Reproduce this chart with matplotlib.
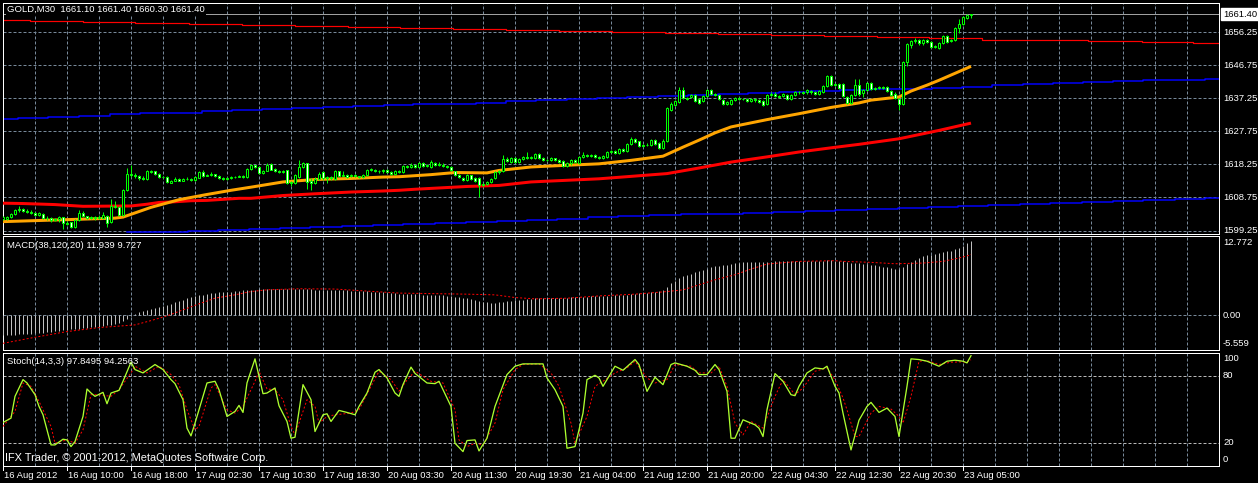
import numpy as np
import matplotlib
matplotlib.use("Agg")
import matplotlib.pyplot as plt
from matplotlib.transforms import blended_transform_factory, offset_copy

# ---------------- data ----------------
opens = [1602.6,1602.5,1603.0,1604.0,1605.0,1605.3,1604.8,1604.6,1604.2,1603.7,
 1604.1,1602.8,1602.9,1602.4,1602.6,1603.0,1601.4,1601.6,1600.3,1602.2,
 1604.4,1603.3,1602.9,1603.0,1602.8,1602.8,1603.4,1601.7,1606.4,1606.0,
 1603.6,1610.8,1615.6,1615.1,1614.8,1614.2,1614.1,1616.2,1616.2,1615.6,
 1614.6,1614.6,1613.0,1613.6,1614.1,1613.6,1614.1,1614.0,1613.9,1614.4,
 1616.1,1614.9,1615.1,1615.4,1614.8,1614.4,1614.1,1614.3,1614.7,1614.6,
 1614.8,1614.6,1616.9,1618.0,1617.6,1615.9,1616.4,1618.3,1616.9,1616.2,
 1616.0,1616.5,1613.1,1612.9,1614.6,1617.5,1618.5,1613.4,1612.8,1614.1,
 1616.0,1614.4,1614.6,1614.1,1616.2,1615.0,1615.3,1614.8,1615.2,1614.8,
 1614.6,1615.1,1616.5,1616.7,1616.4,1616.2,1616.6,1616.1,1615.4,1616.2,
 1616.0,1617.7,1617.4,1618.0,1617.6,1618.5,1617.9,1617.5,1618.6,1618.1,
 1618.2,1617.9,1617.5,1616.2,1615.1,1614.4,1613.7,1615.1,1614.4,1614.4,
 1612.2,1612.6,1613.2,1614.4,1616.0,1616.3,1619.9,1619.0,1620.2,1619.0,
 1619.8,1620.4,1620.0,1620.2,1621.1,1620.2,1619.6,1619.5,1620.0,1619.5,
 1619.2,1617.7,1618.5,1619.4,1618.6,1620.3,1621.0,1620.6,1621.0,1620.4,
 1620.0,1620.3,1621.8,1622.0,1621.5,1622.7,1622.2,1624.2,1625.6,1624.9,
 1623.6,1623.8,1623.7,1625.2,1624.4,1623.0,1625.0,1633.8,1635.2,1636.2,
 1639.6,1637.2,1637.5,1638.1,1636.9,1636.5,1637.8,1639.6,1638.4,1638.1,
 1636.7,1635.7,1635.7,1636.8,1637.2,1636.9,1637.0,1636.4,1637.0,1636.6,
 1636.4,1635.7,1638.3,1638.6,1638.0,1637.8,1638.3,1636.9,1638.1,1638.9,
 1639.0,1638.9,1639.4,1638.9,1638.4,1639.0,1640.7,1643.6,1641.0,1641.2,
 1641.3,1637.6,1636.0,1638.3,1641.0,1638.8,1639.5,1641.5,1639.8,1640.3,
 1640.5,1640.5,1639.3,1638.6,1637.1,1635.7,1647.7,1652.5,1653.6,1654.0,
 1653.2,1653.9,1653.3,1652.0,1651.7,1653.0,1655.1,1653.6,1653.9,1657.3,
 1658.5,1660.2,1661.1]
closes = [1603.2,1603.0,1604.0,1605.0,1605.3,1604.8,1604.6,1604.2,1603.8,1604.3,
 1602.8,1602.9,1602.3,1602.6,1603.0,1601.4,1601.2,1600.2,1602.2,1604.3,
 1603.3,1602.9,1603.1,1602.7,1603.2,1603.6,1601.5,1606.4,1606.1,1603.6,
 1610.8,1615.6,1615.1,1614.8,1614.2,1614.1,1616.2,1616.0,1615.4,1614.6,
 1614.5,1613.2,1613.5,1614.1,1613.6,1614.1,1614.0,1613.9,1614.5,1616.1,
 1614.8,1615.1,1615.4,1614.8,1614.4,1614.1,1614.2,1614.7,1614.6,1614.9,
 1614.6,1616.9,1618.0,1617.4,1615.8,1616.3,1618.2,1616.7,1616.3,1616.0,
 1616.4,1612.9,1612.8,1615.1,1617.6,1618.6,1613.2,1612.8,1614.1,1615.6,
 1614.2,1614.6,1614.2,1616.3,1614.8,1615.3,1614.6,1615.2,1614.8,1614.6,
 1615.2,1616.5,1616.8,1616.4,1616.2,1616.6,1616.1,1615.4,1616.2,1616.0,
 1617.7,1617.4,1618.2,1617.6,1618.6,1617.9,1618.0,1618.9,1618.1,1618.4,
 1617.8,1617.5,1616.5,1615.1,1614.6,1613.7,1615.1,1614.1,1613.6,1612.2,
 1612.5,1613.2,1614.1,1616.0,1616.2,1619.9,1619.1,1620.2,1618.9,1619.8,
 1620.4,1620.0,1620.3,1621.1,1620.2,1619.6,1619.5,1620.0,1619.5,1618.9,
 1617.8,1618.5,1619.4,1618.8,1620.3,1621.0,1620.6,1621.0,1620.4,1620.0,
 1620.6,1621.8,1622.0,1621.6,1622.7,1622.2,1624.2,1625.6,1624.8,1623.4,
 1623.7,1623.9,1625.2,1624.2,1623.0,1625.1,1634.3,1635.7,1636.5,1639.6,
 1637.2,1636.9,1638.1,1636.5,1636.0,1637.8,1639.6,1638.4,1638.1,1636.9,
 1635.7,1636.2,1636.8,1637.2,1636.9,1637.1,1636.4,1637.1,1636.6,1636.3,
 1635.4,1638.3,1638.6,1638.0,1637.6,1638.4,1636.9,1638.1,1638.9,1639.1,
 1638.8,1639.5,1638.9,1638.4,1639.2,1640.7,1643.6,1641.0,1641.3,1640.1,
 1637.9,1636.0,1638.3,1641.0,1638.6,1639.5,1641.5,1639.8,1640.3,1640.5,
 1640.3,1639.3,1638.3,1637.3,1635.7,1647.7,1652.7,1653.6,1654.1,1653.2,
 1653.9,1653.5,1652.0,1652.3,1653.0,1655.1,1653.5,1653.9,1657.3,1658.5,
 1660.5,1661.1,1661.4]
highs = [1603.5,1603.3,1604.3,1605.3,1606.2,1605.6,1605.3,1605.0,1604.6,1604.6,
 1604.3,1603.3,1603.0,1602.9,1603.3,1603.1,1601.9,1601.8,1602.5,1605.1,
 1604.9,1603.5,1603.4,1603.4,1603.6,1604.6,1603.7,1608.2,1607.6,1606.4,
 1611.2,1617.2,1618.0,1615.9,1615.2,1614.8,1616.5,1616.6,1616.4,1615.8,
 1614.8,1614.8,1613.8,1614.5,1614.4,1614.4,1614.5,1614.2,1614.8,1616.4,
 1616.6,1615.4,1616.1,1615.6,1615.1,1614.6,1614.5,1615.0,1615.0,1615.2,
 1615.1,1617.2,1618.3,1618.2,1617.8,1616.6,1618.6,1618.6,1617.1,1616.5,
 1616.7,1616.7,1613.4,1615.4,1619.4,1618.9,1618.7,1614.2,1614.5,1616.0,
 1616.3,1615.0,1614.9,1616.6,1616.4,1616.2,1615.6,1615.5,1615.4,1615.0,
 1615.5,1617.0,1617.1,1617.0,1616.7,1616.9,1616.9,1616.3,1616.5,1616.5,
 1618.0,1618.0,1618.5,1618.3,1618.9,1618.8,1618.4,1619.5,1618.9,1618.9,
 1618.5,1618.2,1617.8,1616.4,1615.4,1614.7,1615.4,1615.3,1614.6,1614.7,
 1612.9,1613.6,1614.4,1616.3,1616.6,1620.8,1620.3,1620.5,1620.5,1620.1,
 1620.7,1621.8,1620.6,1621.4,1621.4,1620.5,1619.9,1620.3,1620.2,1619.8,
 1619.4,1618.8,1619.7,1619.7,1620.6,1621.9,1621.3,1621.3,1621.3,1620.7,
 1620.9,1622.1,1622.4,1622.3,1623.0,1623.0,1624.5,1626.0,1625.9,1625.1,
 1624.2,1624.3,1625.5,1625.4,1624.6,1625.4,1634.6,1636.2,1636.8,1640.5,
 1640.5,1637.6,1638.6,1638.4,1637.2,1638.1,1639.9,1639.9,1638.7,1638.4,
 1637.0,1636.5,1637.1,1637.5,1637.5,1637.4,1637.3,1637.4,1637.3,1636.9,
 1636.7,1638.6,1638.9,1638.9,1638.3,1638.7,1638.6,1638.4,1639.2,1639.4,
 1639.3,1639.8,1639.7,1639.2,1639.5,1641.0,1643.9,1643.9,1641.7,1641.5,
 1641.6,1637.9,1638.6,1642.9,1642.9,1639.8,1641.8,1641.8,1640.6,1640.9,
 1640.8,1640.8,1639.6,1638.9,1637.4,1648.0,1653.0,1654.1,1654.6,1654.3,
 1654.2,1654.2,1653.6,1652.6,1653.3,1655.4,1655.4,1654.2,1657.6,1660.0,
 1661.0,1661.4,1661.4]
lows = [1602.3,1602.2,1602.8,1603.8,1604.7,1604.5,1604.3,1604.0,1603.5,1603.5,
 1602.6,1602.3,1601.8,1602.1,1601.6,1599.8,1600.9,1600.0,1600.1,1602.0,
 1603.1,1602.6,1602.5,1602.4,1602.5,1602.6,1600.4,1601.5,1605.6,1603.3,
 1603.4,1610.5,1614.7,1614.3,1613.8,1613.9,1613.9,1615.7,1615.2,1614.4,
 1614.2,1613.0,1612.8,1613.4,1613.4,1613.4,1613.8,1613.6,1613.6,1614.2,
 1614.6,1614.8,1614.9,1614.5,1614.1,1613.9,1613.9,1614.1,1614.4,1614.5,
 1614.3,1614.4,1616.7,1617.1,1615.5,1615.6,1616.2,1616.5,1616.0,1615.7,
 1615.8,1612.6,1611.9,1612.7,1614.3,1617.2,1611.2,1611.0,1612.5,1613.9,
 1613.9,1612.9,1613.9,1613.9,1614.5,1614.8,1614.3,1614.6,1614.5,1614.3,
 1614.4,1614.9,1616.2,1616.1,1615.9,1615.9,1615.8,1615.1,1615.1,1615.7,
 1615.8,1617.1,1617.1,1617.3,1617.3,1617.6,1617.6,1617.2,1617.8,1617.8,
 1617.5,1617.2,1616.2,1614.8,1614.2,1613.4,1613.5,1613.8,1613.3,1608.8,
 1611.9,1612.3,1612.9,1614.1,1615.6,1616.0,1618.8,1618.7,1618.6,1618.7,
 1619.5,1619.7,1619.7,1619.9,1619.9,1619.3,1619.2,1619.2,1619.2,1618.6,
 1617.5,1617.4,1618.2,1618.5,1618.3,1620.0,1620.3,1620.3,1620.1,1619.7,
 1619.7,1620.0,1621.5,1621.3,1621.2,1621.9,1621.9,1623.9,1624.5,1623.1,
 1623.2,1623.4,1623.4,1623.9,1622.7,1622.7,1624.8,1633.5,1634.9,1635.9,
 1636.9,1636.6,1637.2,1636.2,1635.7,1636.2,1637.5,1638.1,1637.8,1636.6,
 1635.4,1635.2,1635.4,1636.5,1636.6,1636.6,1636.1,1636.1,1636.3,1636.0,
 1635.1,1635.4,1638.0,1637.7,1637.3,1637.5,1636.6,1636.6,1637.8,1638.6,
 1638.5,1638.6,1638.6,1638.1,1638.1,1638.7,1640.4,1640.7,1640.7,1639.8,
 1637.6,1635.7,1635.7,1638.0,1638.0,1637.6,1639.2,1639.5,1639.5,1640.0,
 1640.0,1639.0,1638.0,1637.0,1633.8,1635.4,1646.5,1651.6,1653.0,1652.5,
 1652.6,1653.2,1651.6,1651.7,1651.4,1652.7,1653.2,1653.3,1653.6,1656.0,
 1658.2,1659.9,1660.3]

# moving averages (vertices at bar indices)
ma_fast_x = [0,14,28,30,37,44,51,57,62,70,78,87,95,99,107,113,121,124,132,141,149,
             157,165,170,174,178,182,191,199,207,214,217,224,227,231,234,238,242]
ma_fast = [1601.8,1602.3,1602.8,1603.1,1605.9,1608.1,1609.6,1610.8,1611.7,1613.2,1613.9,
           1614.2,1614.6,1614.7,1615.3,1615.9,1615.8,1616.5,1617.5,1618.0,1618.4,1619.4,
           1620.6,1623.2,1625.2,1627.3,1629.0,1631.1,1632.8,1634.6,1635.9,1636.7,1637.6,
           1639.3,1641.0,1642.4,1644.4,1646.4]
ma_slow_x = [0,5,13,20,32,36,39,43,47,51,55,59,62,70,78,87,95,99,103,116,124,132,149,
             157,166,174,182,191,199,207,214,224,234,242]
ma_slow = [1607.1,1607.0,1606.7,1606.2,1606.3,1606.8,1607.3,1607.5,1607.8,1607.9,1608.2,
           1608.5,1608.5,1609.3,1609.8,1610.3,1610.6,1610.8,1611.1,1611.9,1612.2,1613.2,
           1614.1,1614.8,1615.6,1617.2,1618.9,1620.4,1621.8,1623.0,1624.0,1625.6,1628.0,
           1630.1]
# higher-timeframe step lines
htf_red_x = [0,6.75,20,33,46.5,59.75,73,86.25,99.25,112.5,125.75,139,152.25,165.5,178.75,
             192,205.25,218.5,231.5,244.75,258,271.25,284.75,297.5,304]
htf_red = [1659.7,1659.4,1659.0,1658.8,1658.5,1658.3,1658.0,1657.7,1657.4,1657.1,1656.8,
           1656.5,1656.3,1656.1,1655.6,1655.3,1655.1,1654.9,1654.5,1654.1,1653.9,1653.6,
           1653.4,1653.1,1653.1]
blue_up_x = [0,3.75,11.25,19,26.75,34.25,42,49.75,57.25,64.75,72.25,80,87.5,95.25,102.5,
             110.5,118.25,125.75,133.25,141,148.5,156,163.75,171.25,178.75,186.25,194,
             201.75,209.25,216.75,224.75,232.25,239.75,247.25,255,262.5,270,277.5,285,
             293,300.5,304]
blue_up = [1631.4,1631.6,1631.9,1632.2,1632.6,1632.9,1633.1,1633.5,1633.8,1634.1,1634.4,
           1634.7,1635.0,1635.4,1635.5,1635.7,1636.0,1636.4,1636.7,1636.9,1637.2,1637.5,
           1637.8,1638.1,1638.4,1638.7,1639.0,1639.3,1639.5,1639.8,1640.0,1640.3,1640.6,
           1641.0,1641.3,1641.6,1641.9,1642.1,1642.4,1642.6,1642.9,1642.9]
blue_dn_x = [31,38.5,46.25,53.75,61.5,69.25,76.75,84.75,92.5,100,108,115.75,123.5,131,
             138.5,146.25,153.75,161.5,169.5,177.25,185,192.5,200.5,208,216,223.75,231.25,
             238.75,246.25,254.25,261.75,269.75,277.5,285,293,300.5,304]
blue_dn = [1598.7,1598.9,1599.0,1599.3,1599.6,1599.9,1600.2,1600.5,1600.9,1601.2,1601.5,
           1601.8,1602.0,1602.3,1602.6,1603.0,1603.3,1603.6,1603.9,1604.1,1604.3,1604.6,
           1604.9,1605.2,1605.5,1605.8,1606.1,1606.4,1606.6,1606.9,1607.2,1607.5,1607.8,
           1608.1,1608.4,1608.7,1608.7]

# MACD histogram (per bar) and signal line vertices
macd = [-3.15,-3.12,-3.10,-3.08,-3.05,-3.02,-2.98,-2.93,-2.88,-2.82,
 -2.77,-2.70,-2.63,-2.56,-2.48,-2.40,-2.34,-2.27,-2.20,-2.12,
 -2.05,-1.99,-1.93,-1.87,-1.81,-1.72,-1.62,-1.48,-1.33,-1.17,
 -0.90,-0.55,-0.15,0.25,0.50,0.72,0.90,1.05,1.18,1.32,
 1.48,1.65,1.85,2.10,2.30,2.50,2.72,2.92,3.05,3.18,
 3.30,3.42,3.52,3.60,3.66,3.72,3.76,3.80,3.86,3.92,
 3.98,4.03,4.08,4.12,4.15,4.18,4.20,4.22,4.23,4.24,
 4.25,4.22,4.18,4.18,4.22,4.26,4.20,4.14,4.12,4.12,
 4.10,4.08,4.06,4.06,4.05,4.02,3.99,3.96,3.92,3.88,
 3.85,3.82,3.80,3.76,3.72,3.66,3.62,3.56,3.50,3.45,
 3.42,3.40,3.38,3.36,3.35,3.32,3.30,3.28,3.26,3.23,
 3.20,3.16,3.10,3.00,2.90,2.80,2.70,2.55,2.40,2.22,
 2.12,2.06,2.04,2.04,2.10,2.18,2.22,2.30,2.38,2.46,
 2.52,2.57,2.62,2.70,2.76,2.80,2.82,2.83,2.84,2.84,
 2.82,2.82,2.85,2.90,2.95,2.98,3.00,3.03,3.06,3.08,
 3.10,3.12,3.16,3.19,3.22,3.25,3.28,3.33,3.42,3.50,
 3.58,3.64,3.72,3.80,3.88,3.97,4.60,5.10,5.55,6.00,
 6.25,6.45,6.65,6.85,7.05,7.20,7.40,7.65,7.85,7.95,
 8.05,8.12,8.20,8.30,8.40,8.47,8.50,8.52,8.54,8.55,
 8.56,8.58,8.60,8.62,8.62,8.63,8.62,8.63,8.64,8.65,
 8.67,8.70,8.72,8.73,8.74,8.76,8.80,8.78,8.72,8.66,
 8.62,8.50,8.40,8.38,8.36,8.28,8.20,8.12,8.02,7.93,
 7.80,7.68,7.56,7.46,7.40,7.70,8.15,8.55,8.90,9.20,
 9.45,9.62,9.72,9.85,9.98,10.15,10.25,10.35,10.55,10.80,
 11.15,11.55,11.94]
signal_x = [0,8,16,24,33,37,41,45,49,53,58,62,66,74,83,91,99,116,123,128,133,141,149,
            158,166,170,174,178,183,187,191,199,208,210,217,223,230,235,239,241,242]
signal = [-4.49,-3.52,-2.61,-1.97,-1.54,-0.85,-0.10,0.87,1.83,2.74,3.28,3.80,4.08,4.24,
          4.20,3.87,3.55,3.38,3.27,2.84,2.63,2.73,3.10,3.38,3.80,4.07,4.88,5.68,6.49,
          7.40,8.20,8.63,8.74,8.63,8.47,8.25,8.36,8.63,9.17,9.50,9.727]

# Stochastic %K and %D vertices
stoch_k_x = [0,2,3,5,6,8,9,10,12,13,15,16,17,18,20,21,22,23,25,26,27,29,30,32,33,35,38,
             40,42,43,45,46,47,48,51,53,54,56,58,59,60,61,63,65,66,68,69,71,72,73,75,77,
             78,80,81,82,84,86,88,89,91,93,94,96,98,99,100,102,103,106,108,109,112,113,
             115,116,118,119,121,123,126,128,130,135,136,138,140,141,143,145,146,148,149,
             150,153,155,158,159,161,163,165,167,168,171,173,174,176,178,179,181,182,183,
             185,188,189,190,191,193,195,197,198,199,201,203,205,206,208,209,210,212,214,
             216,217,219,221,223,224,226,227,229,231,234,236,238,240,241,242]
stoch_k = [38.0,41.9,61.4,76.4,73.4,62.9,52.4,44.9,17.9,17.9,23.0,22.4,16.4,20.9,43.4,
           68.0,64.4,61.4,65.0,54.8,64.4,66.8,74.9,92.0,85.4,82.4,89.9,85.4,76.4,72.8,
           58.4,32.9,26.0,37.4,73.4,74.9,67.4,43.4,47.9,53.3,47.0,73.4,95.0,63.8,64.4,
           68.9,53.0,38.9,23.9,24.8,71.9,58.4,29.9,44.9,45.8,38.9,48.8,47.0,44.9,52.4,
           64.4,83.0,85.4,77.9,64.4,61.4,72.0,87.6,82.0,73.4,72.8,74.9,52.4,19.4,11.9,
           21.8,22.4,12.5,23.9,52.4,80.9,88.4,90.5,90.5,77.9,67.4,52.4,14.9,16.4,46.4,
           76.4,80.3,77.9,70.4,88.4,84.8,94.4,89.9,65.9,78.5,71.9,89.9,91.4,88.4,84.8,
           80.9,80.9,89.9,85.4,65.9,23.9,23.9,40.4,35.9,32.9,25.4,49.4,81.8,74.9,62.9,
           62.0,70.4,82.4,86.9,86.0,88.4,70.4,64.4,46.4,13.4,40.0,52.4,56.0,47.0,50.9,
           43.4,25.4,70.4,95.0,94.4,92.9,88.4,92.9,93.8,92.9,91.4,97.85]
stoch_d_x = [0,3,5,7,9,12,13,16,18,20,22,24,27,29,32,33,36,39,42,44,46,48,49,52,53,56,
             58,60,63,64,66,68,70,72,73,76,78,79,81,83,87,89,92,94,97,99,101,103,107,110,
             113,114,116,118,120,123,125,128,130,134,137,139,142,143,146,148,150,153,156,
             158,161,163,166,168,172,174,177,179,181,183,185,187,190,193,195,198,200,203,
             206,208,210,211,213,214,217,219,222,224,225,227,229,231,234,237,240,241,242]
stoch_d = [34.4,47.9,73.4,70.4,56.9,34.4,19.4,22.4,19.4,31.4,62.9,62.9,61.4,67.4,82.4,
           88.4,82.4,88.4,80.9,71.9,49.4,31.4,34.4,68.9,71.9,49.4,46.4,52.4,74.9,83.9,
           68.0,67.4,58.4,34.4,26.9,58.4,52.4,37.4,43.4,44.9,46.4,49.4,70.4,83.9,76.4,
           66.0,76.0,83.9,74.9,73.4,49.4,22.4,16.4,19.4,17.9,37.4,67.4,85.4,89.9,90.5,
           82.4,70.4,37.4,19.4,43.4,70.4,74.9,82.4,86.9,92.9,77.9,73.4,76.4,89.9,88.4,
           82.4,82.4,88.4,70.4,37.4,26.9,38.9,32.9,61.4,76.4,62.9,68.9,83.9,86.9,76.4,
           60.0,49.4,25.4,25.4,46.4,52.4,50.0,43.4,37.4,61.4,92.9,93.5,89.9,92.0,92.3,
           92.0,94.26]

price_ticks = [1656.25, 1646.75, 1637.25, 1627.75, 1618.25, 1608.75, 1599.25]
bid_price = 1661.40
time_bars = [0,16,32,48,64,80,96,112,128,144,160,176,192,208,224,240]
time_labels = ["16 Aug 2012","16 Aug 10:00","16 Aug 18:00","17 Aug 02:30","17 Aug 10:30",
               "17 Aug 18:30","20 Aug 03:30","20 Aug 11:30","20 Aug 19:30","21 Aug 04:00",
               "21 Aug 12:00","21 Aug 20:00","22 Aug 04:30","22 Aug 12:30","22 Aug 20:30",
               "23 Aug 05:00"]
header = "GOLD,M30  1661.10 1661.40 1660.30 1661.40"
macd_title = "MACD(38,120,20) 11.939 9.727"
stoch_title = "Stoch(14,3,3) 97.8495 94.2563"
copyright_text = "IFX Trader, \u00a9 2001-2012, MetaQuotes Software Corp."

# ---------------- drawing ----------------
plt.rcParams['font.family'] = ['Liberation Sans', 'DejaVu Sans']
W, H = 1258, 483
fig = plt.figure(figsize=(W / 100, H / 100), dpi=100, facecolor='black')

GRID = '#778899'
TXT = 'white'
FS = 6.8
PX = 0.72  # one pixel in points

def px_axes(left, top, right, bottom):
    ax = fig.add_axes([left / W, 1 - bottom / H, (right - left) / W, (bottom - top) / H])
    ax.set_facecolor('black')
    for s in ax.spines.values():
        s.set_color('white')
        s.set_linewidth(PX)
    ax.set_xticks([])
    ax.set_yticks([])
    ax.set_xlim(0, 304)
    return ax

ax1 = px_axes(3, 3, 1219, 233.5)
ax2 = px_axes(3, 235.5, 1219, 350)
ax3 = px_axes(3, 352.5, 1219, 466)
ax1.set_ylim(1598.39, 1664.60)
ax2.set_ylim(-5.559, 12.772)
ax3.set_ylim(-1.0, 100.7)

dash = (0, (3, 2))
for ax in (ax1, ax2, ax3):
    for g in range(8, 304, 8):
        ax.axvline(g, color=GRID, lw=PX, ls=dash, zorder=0)
for p in price_ticks:
    ax1.axhline(p, color=GRID, lw=PX, ls=dash, zorder=0)
ax2.axhline(0, color=GRID, lw=PX, ls=dash, zorder=0)
for lv in (80, 20):
    ax3.axhline(lv, color='#b8b8b8', lw=PX, ls=dash, zorder=0)

# bid line
ax1.axhline(bid_price, color='#a0a0a0', lw=PX, zorder=1)

# step lines
ax1.plot(htf_red_x, htf_red, drawstyle='steps-post', color='red', lw=PX * 1.2, zorder=2)
ax1.plot(blue_up_x, blue_up, drawstyle='steps-post', color='#0000ff', lw=PX * 1.5, zorder=2)
ax1.plot(blue_dn_x, blue_dn, drawstyle='steps-post', color='#0000ff', lw=PX * 1.5, zorder=2)
# moving averages
ax1.plot(ma_slow_x, ma_slow, color='red', lw=PX * 3, zorder=3, solid_capstyle='butt')
ax1.plot(ma_fast_x, ma_fast, color='#ffa500', lw=PX * 3, zorder=3, solid_capstyle='butt')

# candles
o = np.array(opens); c = np.array(closes); h = np.array(highs); l = np.array(lows)
idx = np.arange(len(c))
ax1.vlines(idx, l, h, color='#00ff00', lw=PX, zorder=4)
bull = c >= o
bot = np.minimum(o, c)
hgt = np.abs(c - o)
ax1.bar(idx[bull], hgt[bull], bottom=bot[bull], width=0.72, facecolor='black',
        edgecolor='#00ff00', linewidth=PX, zorder=5)
ax1.bar(idx[~bull], hgt[~bull], bottom=bot[~bull], width=0.72, facecolor='white',
        edgecolor='#00ff00', linewidth=PX, zorder=5)

# MACD
ax2.vlines(np.arange(len(macd)), 0, macd, color='#c0c0c0', lw=PX, zorder=3)
ax2.plot(signal_x, signal, color='red', lw=PX, ls=(0, (2, 2)), zorder=4)

# Stochastic
ax3.plot(stoch_d_x, stoch_d, color='red', lw=PX, ls=(0, (2, 2)), zorder=3)
ax3.plot(stoch_k_x, stoch_k, color='#adff2f', lw=PX * 1.3, zorder=4)

# titles
def ptext(x, y, s, **kw):
    fig.text(x / W, 1 - y / H, s, **kw)

ptext(7, 9.5, header, color=TXT, fontsize=FS, va='center', ha='left',
      bbox=dict(facecolor='black', edgecolor='none', pad=1.0), zorder=10)
ptext(7, 245, macd_title, color=TXT, fontsize=FS, va='center', ha='left')
ptext(7, 362, stoch_title, color=TXT, fontsize=FS, va='center', ha='left')
ptext(5, 458, copyright_text, color=TXT, fontsize=7.9, va='center', ha='left')

# right-hand value labels
def rlabel(ax, v, s, **kw):
    tr = offset_copy(blended_transform_factory(ax.transAxes, ax.transData), fig=fig,
                     x=4, y=0, units='dots')
    ax.text(1.0, v, s, transform=tr, va='center', ha='left', fontsize=FS, color=TXT,
            clip_on=False, **kw)

for p in price_ticks:
    rlabel(ax1, p, f"{p:.2f}")
rlabel(ax1, bid_price, f"{bid_price:.2f}", bbox=dict(facecolor='white', edgecolor='white',
       pad=1.2), zorder=10)
ax1.texts[-1].set_color('black')

rlabel(ax2, 11.64, "12.772")
rlabel(ax2, 0.0, "0.00")
rlabel(ax2, -4.55, "-5.559")
rlabel(ax3, 95.0, "100")
rlabel(ax3, 80, "80")
rlabel(ax3, 20, "20")
rlabel(ax3, 4.7, "0")

# time axis
trb = blended_transform_factory(ax3.transData, ax3.transAxes)
for b, s in zip(time_bars, time_labels):
    ax3.plot([b, b], [0, -4 / 113.5], transform=trb, color='white', lw=PX, clip_on=False)
    tr = offset_copy(trb, fig=fig, x=1, y=-10, units='dots')
    ax3.text(b, 0, s, transform=tr, va='center', ha='left', fontsize=FS, color=TXT,
             clip_on=False)

fig.savefig('out.png', dpi=100, facecolor='black')
